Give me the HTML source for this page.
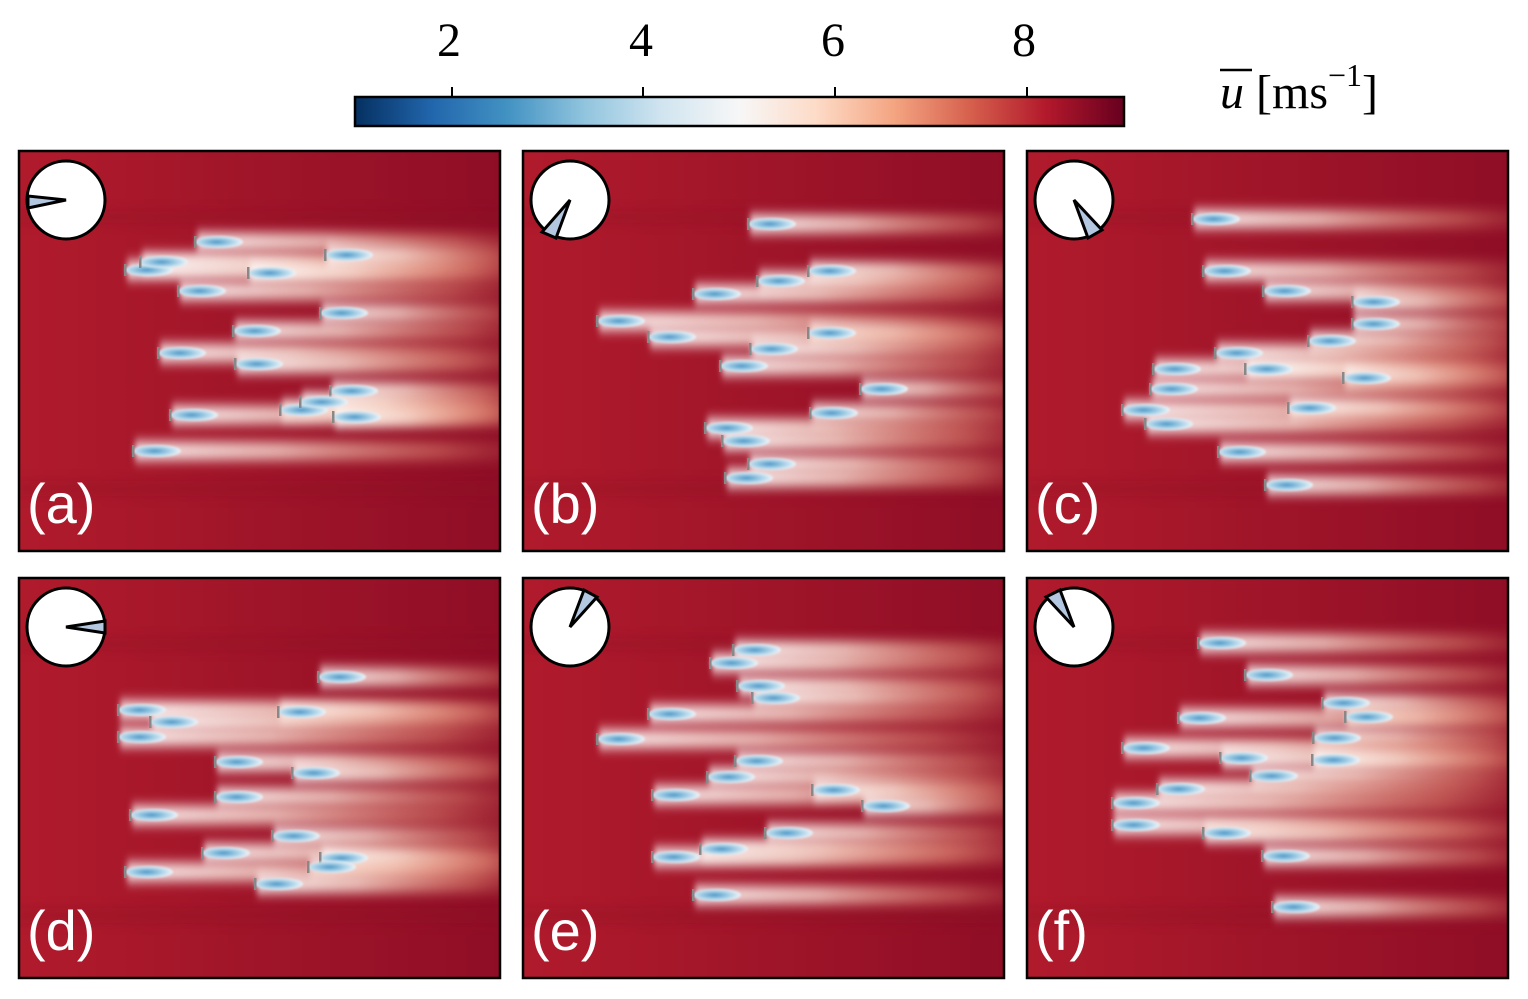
<!DOCTYPE html><html><head><meta charset="utf-8"><style>body{margin:0;background:#fff}svg{display:block}</style></head><body>
<svg id="s" width="1528" height="999" xmlns="http://www.w3.org/2000/svg" font-family="Liberation Serif, serif">
<defs>
<linearGradient id="cb" x1="0" x2="1"><stop offset="0" stop-color="#053061"/><stop offset=".1" stop-color="#2166ac"/><stop offset=".2" stop-color="#4393c3"/><stop offset=".3" stop-color="#92c5de"/><stop offset=".4" stop-color="#d1e5f0"/><stop offset=".5" stop-color="#f7f7f7"/><stop offset=".6" stop-color="#fddbc7"/><stop offset=".7" stop-color="#f4a582"/><stop offset=".8" stop-color="#d6604d"/><stop offset=".9" stop-color="#b2182b"/><stop offset="1" stop-color="#67001f"/></linearGradient>
<linearGradient id="bg" x1="0" x2="1"><stop offset="0" stop-color="#b01b2c"/><stop offset="1" stop-color="#8f0e26"/></linearGradient>
<linearGradient id="wk" x1="0" x2="1"><stop offset="0" stop-color="#fff" stop-opacity=".95"/><stop offset=".35" stop-color="#fbe3d6" stop-opacity=".8"/><stop offset=".75" stop-color="#f2a486" stop-opacity=".4"/><stop offset="1" stop-color="#e07060" stop-opacity="0"/></linearGradient>
<radialGradient id="bl" cx=".45" cy=".5" r=".55"><stop offset="0" stop-color="#4d97c8"/><stop offset=".5" stop-color="#9ccae3"/><stop offset="1" stop-color="#eef5fa"/></radialGradient>
<filter id="bw" x="-10%" y="-150%" width="120%" height="400%"><feGaussianBlur stdDeviation="3 6"/></filter>
<filter id="bb"><feGaussianBlur stdDeviation="1"/></filter>
</defs>
<rect x="355" y="97" width="769" height="29" fill="url(#cb)" stroke="#000" stroke-width="2.5"/>
<g stroke="#000" stroke-width="2"><line x1="452" y1="97" x2="452" y2="87"/><line x1="643" y1="97" x2="643" y2="87"/><line x1="835" y1="97" x2="835" y2="87"/><line x1="1027" y1="97" x2="1027" y2="87"/></g>
<g font-size="48" text-anchor="middle"><text x="449" y="56">2</text><text x="641" y="56">4</text><text x="833" y="56">6</text><text x="1024" y="56">8</text></g>
<text x="1220" y="108" font-size="48"><tspan font-style="italic">u</tspan> [ms<tspan font-size="32" dy="-22">−1</tspan><tspan dy="22">]</tspan></text>
<line x1="1220" y1="70" x2="1252" y2="70" stroke="#000" stroke-width="2.5"/>
<g id="p"></g>
</svg>
<script>
var P=[[19,151,[[195,242],[125,270],[140,262],[248,273],[325,255],[178,291],[233,331],[320,313],[158,353],[235,364],[330,391],[280,410],[300,402],[170,415],[333,417],[133,451]],[-38,-4],[-38,8],"(a)"],
[523,151,[[748,224],[808,271],[757,281],[693,294],[597,321],[808,333],[648,337],[750,349],[720,366],[860,389],[810,413],[705,428],[722,441],[748,464],[725,478]],[-28,32],[-14,38],"(b)"],
[1027,151,[[1192,219],[1203,271],[1263,291],[1352,302],[1352,324],[1308,341],[1215,353],[1153,369],[1245,369],[1343,378],[1150,389],[1122,410],[1288,408],[1145,424],[1218,452],[1265,485]],[14,38],[28,30],"(c)"],
[19,578,[[318,677],[118,710],[278,712],[150,722],[118,737],[215,762],[292,773],[215,797],[130,815],[272,836],[202,853],[320,858],[308,867],[125,872],[255,884]],[39,-6],[39,6],"(d)"],
[523,578,[[710,663],[733,650],[737,686],[752,698],[648,714],[597,739],[735,761],[707,777],[652,795],[812,790],[862,806],[765,833],[700,849],[652,857],[693,895]],[14,-37],[27,-30],"(e)"],
[1027,578,[[1198,643],[1245,675],[1322,703],[1345,717],[1178,718],[1313,738],[1122,748],[1220,758],[1312,760],[1250,776],[1157,789],[1112,803],[1203,833],[1112,825],[1262,856],[1272,907]],[-28,-30],[-14,-37],"(f)"]];
var h="";
P.forEach(function(p,i){var x=p[0],y=p[1],w=481,H=400;
h+='<clipPath id="c'+i+'"><rect x="'+x+'" y="'+y+'" width="'+w+'" height="'+H+'"/></clipPath><g clip-path="url(#c'+i+')"><rect x="'+x+'" y="'+y+'" width="'+w+'" height="'+H+'" fill="url(#bg)"/>';
h+='<rect x="'+x+'" y="'+(y+60)+'" width="'+w+'" height="12" fill="#8a0c24" opacity=".3" filter="url(#bw)"/><rect x="'+x+'" y="'+(y+330)+'" width="'+w+'" height="15" fill="#8a0c24" opacity=".3" filter="url(#bw)"/>';
p[2].forEach(function(t){h+='<rect x="'+(t[0]+2)+'" y="'+(t[1]-9)+'" width="'+(x+w-t[0]+40)+'" height="18" fill="url(#wk)" filter="url(#bw)"/>';});
p[2].forEach(function(t){h+='<ellipse cx="'+(t[0]+24)+'" cy="'+t[1]+'" rx="24" ry="6" fill="url(#bl)" filter="url(#bb)"/><rect x="'+(t[0]-1)+'" y="'+(t[1]-6)+'" width="2.5" height="12" fill="#888"/>';});
var cx=x+47,cy=y+49;
h+='</g><rect x="'+x+'" y="'+y+'" width="'+w+'" height="'+H+'" fill="none" stroke="#000" stroke-width="2.5"/>';
h+='<circle cx="'+cx+'" cy="'+cy+'" r="39" fill="#fff" stroke="#000" stroke-width="3"/>';
h+='<polygon points="'+cx+','+cy+' '+(cx+p[3][0])+','+(cy+p[3][1])+' '+(cx+p[4][0])+','+(cy+p[4][1])+'" fill="#b3c8e0" stroke="#000" stroke-width="3" stroke-linejoin="miter"/>';
h+='<text x="'+(x+8)+'" y="'+(y+372)+'" font-family="Liberation Sans, sans-serif" font-size="56" fill="#fff">'+p[5]+'</text>';
});
document.getElementById("p").innerHTML=h;
</script>
</body></html>
